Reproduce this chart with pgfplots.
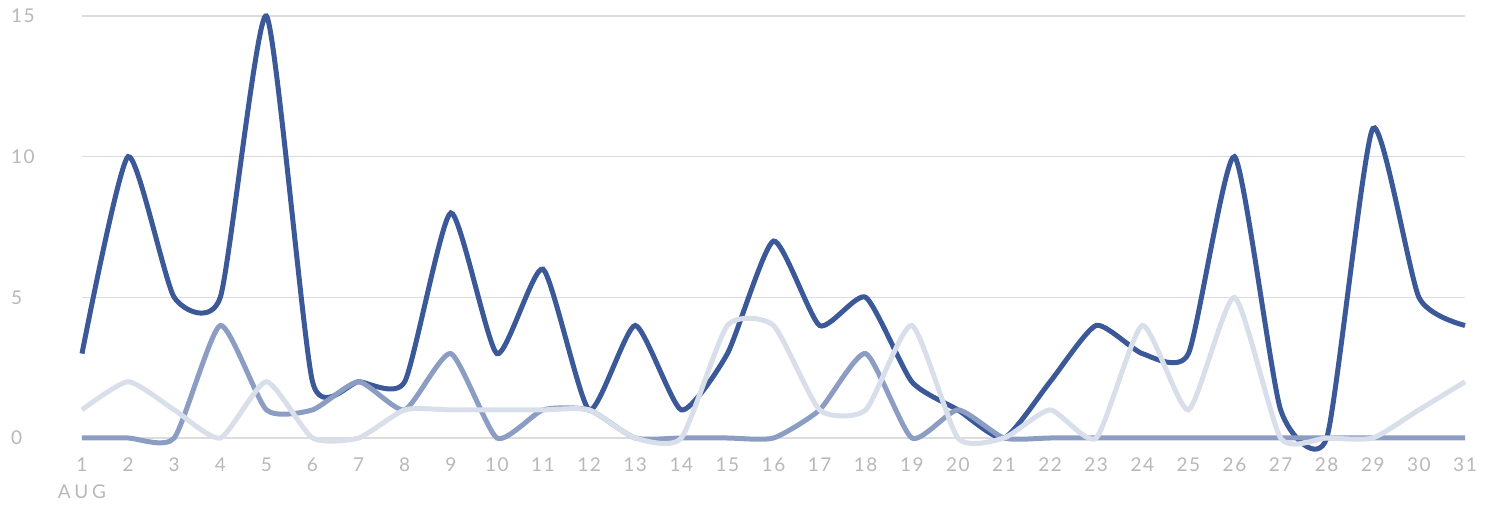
\documentclass[border=0pt]{standalone}
\usepackage{pgfplots}
\pgfplotsset{compat=1.18}
\usepackage{fontspec}
\setmainfont{Lato}
\definecolor{cdark}{HTML}{3B5998}
\definecolor{cmid}{HTML}{8B9DC3}
\definecolor{clight}{HTML}{D8DFEB}
\definecolor{cgrid}{HTML}{DCDCDC}
\definecolor{ctext}{HTML}{B8B8B8}
\begin{document}
\begin{tikzpicture}
\begin{axis}[
  scale only axis,
  width=691.5pt, height=211pt,
  xmin=1, xmax=31, ymin=0, ymax=15,
  xtick={1,...,31}, ytick={0,5,10,15},
  axis line style={draw=none},
  major tick length=0pt,
  ymajorgrids, grid style={cgrid, line width=0.8pt},
  /pgf/number format/assume math mode=true,
  tick label style={font=\fontsize{9.5}{11}\selectfont\addfontfeature{LetterSpace=8}, text=ctext},
  xticklabel style={yshift=-6.5pt},
  yticklabel style={anchor=west, xshift=-39pt},
  clip=false,
]
\addplot[cdark, line width=2.5pt, smooth, tension=0.35] coordinates {
(1,3)(2,10)(3,5)(4,5)(5,15)(6,2)(7,2)(8,2)(9,8)(10,3)(11,6)(12,1)(13,4)(14,1)(15,3)(16,7)
(17,4)(18,5)(19,2)(20,1)(21,0)(22,2)(23,4)(24,3)(25,3)(26,10)(27,1)(28,0)(29,11)(30,5)(31,4)};
\addplot[cmid, line width=2.5pt, smooth, tension=0.35] coordinates {
(1,0)(2,0)(3,0)(4,4)(5,1)(6,1)(7,2)(8,1)(9,3)(10,0)(11,1)(12,1)(13,0)(14,0)(15,0)(16,0)
(17,1)(18,3)(19,0)(20,1)(21,0)(22,0)(23,0)(24,0)(25,0)(26,0)(27,0)(28,0)(29,0)(30,0)(31,0)};
\addplot[clight, line width=2.5pt, smooth, tension=0.35] coordinates {
(1,1)(2,2)(3,1)(4,0)(5,2)(6,0)(7,0)(8,1)(9,1)(10,1)(11,1)(12,1)(13,0)(14,0)(15,4)(16,4)
(17,1)(18,1)(19,4)(20,0)(21,0)(22,1)(23,0)(24,4)(25,1)(26,5)(27,0)(28,0)(29,0)(30,1)(31,2)};
\node[font=\fontsize{9.5}{11}\selectfont\addfontfeature{LetterSpace=20}, text=ctext] at ([yshift=-27pt]axis cs:1,0) {AUG};
\end{axis}
\pgfresetboundingbox
\path[use as bounding box] ([shift={(-41pt,-34.5pt)}]current axis.south west) rectangle ([shift={(13pt,8pt)}]current axis.north east);
\end{tikzpicture}
\end{document}
